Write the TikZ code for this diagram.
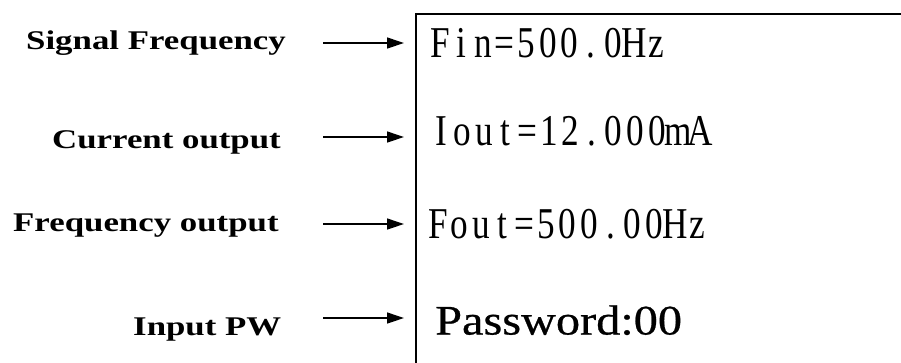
\documentclass[tikz,border=0pt]{standalone}
\usepackage{fontspec}
\usetikzlibrary{arrows.meta}
\newfontfamily\lblfont[FakeStretch=1.29]{Liberation Serif}
\newfontfamily\lcdfont[FakeStretch=0.8]{Liberation Serif}
\newfontfamily\pwfont[FakeStretch=1.15,FakeBold=0.6]{Liberation Serif}
\ExplSyntaxOn
\NewDocumentCommand\lcdtext{m}{\tl_map_inline:nn{#1}{\makebox[21.6pt][c]{##1}}}
\ExplSyntaxOff
\tikzset{
  lbl/.style={anchor=base west,inner sep=0pt,font=\lblfont\bfseries\fontsize{27}{30}\selectfont},
  lcd/.style={anchor=base west,inner sep=0pt,font=\lcdfont\fontsize{44}{48}\selectfont},
  pw/.style={anchor=base west,inner sep=0pt,font=\pwfont\fontsize{42}{46}\selectfont},
  pointer/.style={line width=1.3pt,-{Triangle[length=17pt,width=11pt]}},
  frame/.style={line width=2.4pt}
}
\begin{document}
\begin{tikzpicture}[x=1pt,y=-1pt]
\useasboundingbox (0,0) rectangle (901,362);
% labels
\node[lbl] (l1) at (26,49.5) {Signal Frequency};
\node[lbl] (l2) at (52,148) {Current output};
\node[lbl] (l3) at (13,231) {Frequency output};
\node[lbl] (l4) at (133,335) {Input PW};
% arrows
\coordinate (s1) at (323,43);  \coordinate (e1) at (404,43);
\coordinate (s2) at (323,137); \coordinate (e2) at (404,137);
\coordinate (s3) at (323,224); \coordinate (e3) at (404,224);
\coordinate (s4) at (323,318); \coordinate (e4) at (404,318);
\draw[pointer] (s1) -- (e1);
\draw[pointer] (s2) -- (e2);
\draw[pointer] (s3) -- (e3);
\draw[pointer] (s4) -- (e4);
% display frame
\coordinate (fb) at (416,370);
\coordinate (ft) at (416,14);
\coordinate (fr) at (910,14);
\draw[frame] (fb) -- (ft) -- (fr);
% display texts
\node[lcd] (d1) at (429,57) {\lcdtext{Fin=500.0Hz}};
\node[lcd] (d2) at (430,145) {\lcdtext{Iout=12.000mA}};
\node[lcd] (d3) at (427,238) {\lcdtext{Fout=500.00Hz}};
\node[pw] (d4) at (435,334.5) {Password:00};
\end{tikzpicture}
\end{document}
